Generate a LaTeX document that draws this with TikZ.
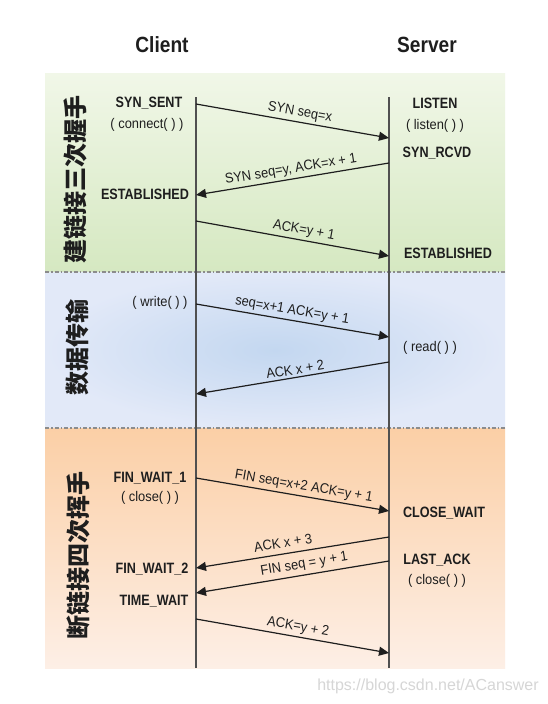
\documentclass[tikz,border=0pt]{standalone}
\usepackage{fontspec}
\setmainfont{Liberation Sans}
\newfontfamily\headfont{Liberation Sans}[FakeStretch=0.87]
\newfontfamily\statefont{Liberation Sans}[FakeStretch=0.84]
\newfontfamily\lblfont{Liberation Sans}[FakeStretch=0.92]
\newfontfamily\cjk{Noto Sans CJK SC}
\usetikzlibrary{arrows.meta}
\definecolor{greenTop}{HTML}{F1F7E8}
\definecolor{greenBot}{HTML}{D5E8C1}
\definecolor{blueIn}{HTML}{C3D7F0}
\definecolor{blueOut}{HTML}{E2E9F8}
\definecolor{orTop}{HTML}{FBCFA6}
\definecolor{orBot}{HTML}{FDEFE6}
\definecolor{lifeC}{HTML}{505050}
\definecolor{inkC}{HTML}{1E1E1E}
\definecolor{sepC}{HTML}{8C8C8C}
\definecolor{wmC}{HTML}{D6D6D6}
\begin{document}
\begin{tikzpicture}[x=1pt,y=-1pt,
  head/.style={font=\headfont\bfseries\fontsize{22}{26}\selectfont, text=inkC},
  state/.style={font=\statefont\bfseries\fontsize{15}{17}\selectfont, text=inkC, inner sep=0pt},
  call/.style={font=\lblfont\fontsize{14}{16}\selectfont, text=inkC, inner sep=0pt},
  cn/.style={font=\cjk\bfseries\fontsize{24}{26}\selectfont, text=inkC, rotate=90, inner sep=0pt},
  life/.style={draw=lifeC, line width=1.2pt},
  msg/.style={draw=inkC, line width=1.2pt, -{Triangle[length=10pt,width=9pt]}},
  lbl/.style={font=\lblfont\fontsize{14}{16}\selectfont, text=inkC, sloped, above=2.5pt, inner sep=0pt},
  sep/.style={draw=sepC, line width=1.3pt, dash pattern=on 4pt off 2pt on 1.5pt off 2pt},
  wm/.style={font=\fontsize{16}{18}\selectfont, text=wmC}
]
\useasboundingbox (0,0) rectangle (548,704);
\fill[white] (0,0) rectangle (548,704);
% bands
\shade[top color=greenTop, bottom color=greenBot] (45,73) rectangle (505,272);
\shade[inner color=blueIn, outer color=blueOut] (45,272) rectangle (505,428);
\shade[top color=orTop, bottom color=orBot] (45,428) rectangle (505,668);
\draw[sep] (45,272) -- (505,272);
\draw[sep] (45,428) -- (505,428);

% headers
\node[head] (client) at (162,45) {Client};
\node[head] (server) at (427,45) {Server};

% lifelines
\coordinate (ctop) at (196,97);
\coordinate (cbot) at (196,668);
\coordinate (stop) at (389,97);
\coordinate (sbot) at (389,668);
\draw[life] (ctop) -- (cbot);
\draw[life] (stop) -- (sbot);

% side labels
\node[cn] (cn1) at (75,179) {建链接三次握手};
\node[cn] (cn2) at (77,347) {数据传输};
\node[cn] (cn3) at (78,555) {断链接四次挥手};

% client states
\node[state] (synsent) at (149,103) {SYN\_SENT};
\node[call] (connect) at (147,125) {( connect( ) )};
\node[state] (cestab) at (145,194) {ESTABLISHED};
\node[call] (write) at (160,303) {( write( ) )};
\node[state] (fw1) at (150,478) {FIN\_WAIT\_1};
\node[call] (cclose) at (150,498) {( close( ) )};
\node[state] (fw2) at (152,569) {FIN\_WAIT\_2};
\node[state] (tw) at (154,601) {TIME\_WAIT};

% server states
\node[state] (listen) at (435,103) {LISTEN};
\node[call] (listenc) at (435,126) {( listen( ) )};
\node[state] (synrcvd) at (437,153) {SYN\_RCVD};
\node[state] (sestab) at (448,253) {ESTABLISHED};
\node[call] (read) at (430,348) {( read( ) )};
\node[state] (closewait) at (444,513) {CLOSE\_WAIT};
\node[state] (lastack) at (437,560) {LAST\_ACK};
\node[call] (sclose) at (437,581) {( close( ) )};

% message endpoints
\coordinate (a1s) at (196,104); \coordinate (a1e) at (389,138);
\coordinate (a2s) at (389,163); \coordinate (a2e) at (196,195);
\coordinate (a3s) at (196,221); \coordinate (a3e) at (389,256);
\coordinate (a4s) at (196,304); \coordinate (a4e) at (389,337);
\coordinate (a5s) at (389,362); \coordinate (a5e) at (196,394);
\coordinate (a6s) at (196,478); \coordinate (a6e) at (389,511);
\coordinate (a7s) at (389,537); \coordinate (a7e) at (196,568);
\coordinate (a8s) at (389,561); \coordinate (a8e) at (196,593);
\coordinate (a9s) at (196,619); \coordinate (a9e) at (389,653);

\draw[msg] (a1s) -- node[lbl, pos=0.53] {SYN seq=x} (a1e);
\draw[msg] (a2s) -- node[lbl, pos=0.50] {SYN seq=y, ACK=x + 1} (a2e);
\draw[msg] (a3s) -- node[lbl, pos=0.55] {ACK=y + 1} (a3e);
\draw[msg] (a4s) -- node[lbl, pos=0.49] {seq=x+1 ACK=y + 1} (a4e);
\draw[msg] (a5s) -- node[lbl, pos=0.48] {ACK x + 2} (a5e);
\draw[msg] (a6s) -- node[lbl, pos=0.55] {FIN seq=x+2 ACK=y + 1} (a6e);
\draw[msg] (a7s) -- node[lbl, pos=0.54, above=3pt] {ACK x + 3} (a7e);
\draw[msg] (a8s) -- node[lbl, pos=0.43, above=1pt] {FIN seq = y + 1} (a8e);
\draw[msg] (a9s) -- node[lbl, pos=0.52] {ACK=y + 2} (a9e);

% watermark
\node[wm] (wmark) at (428,686) {https://blog.csdn.net/ACanswer};
\end{tikzpicture}
\end{document}
